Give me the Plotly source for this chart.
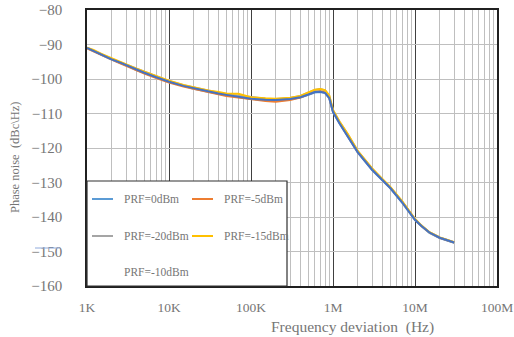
import plotly.graph_objects as go

freq_hz = [1e3, 1.2e3, 1.5e3, 2e3, 2.5e3, 3e3, 4e3, 5e3, 7e3, 10e3, 15e3, 20e3, 30e3, 40e3,
           50e3, 70e3, 100e3, 150e3, 200e3, 300e3, 400e3, 500e3, 600e3, 700e3, 800e3, 900e3,
           1e6, 1.2e6, 1.5e6, 2e6, 3e6, 4e6, 5e6, 7e6, 10e6, 12e6, 15e6, 20e6, 30e6]

prf_0 = [-91.0, -91.8, -93.0, -94.4, -95.3, -96.0, -97.4, -98.3, -99.6, -100.9, -102.0, -102.8,
         -103.7, -104.3, -104.7, -105.2, -105.8, -106.1, -106.2, -105.9, -105.4, -104.6, -103.9,
         -103.8, -104.1, -105.6, -109.6, -112.9, -116.4, -121.3, -126.4, -129.4, -131.7, -135.9,
         -140.9, -142.7, -144.6, -146.1, -147.5]
prf_m5 = [-91.1, -92.0, -93.1, -94.5, -95.4, -96.2, -97.5, -98.4, -99.7, -101.0, -102.2, -102.9,
          -103.8, -104.4, -104.9, -105.4, -106.0, -106.4, -106.6, -106.1, -105.4, -104.5, -103.7,
          -103.5, -103.9, -105.4, -109.4, -112.7, -116.2, -121.1, -126.2, -129.2, -131.5, -135.7,
          -140.7, -142.6, -144.5, -146.0, -147.4]
prf_m20 = [-90.9, -91.7, -92.8, -94.2, -95.1, -95.8, -97.1, -98.0, -99.3, -100.6, -101.8, -102.5,
           -103.4, -104.0, -104.4, -104.8, -105.4, -105.7, -105.8, -105.5, -104.9, -104.0, -103.2,
           -102.9, -103.3, -104.9, -109.1, -112.4, -115.9, -120.9, -126.0, -129.1, -131.4, -135.6,
           -140.6, -142.5, -144.4, -145.9, -147.3]
prf_m15 = [-90.9, -91.6, -92.7, -94.0, -95.0, -95.7, -97.0, -97.9, -99.2, -100.5, -101.7, -102.4,
           -103.3, -103.8, -104.2, -104.3, -105.3, -105.6, -105.7, -105.4, -104.9, -103.9, -103.1,
           -102.9, -103.2, -104.8, -109.0, -112.3, -115.8, -120.8, -125.9, -129.0, -131.3, -135.5,
           -140.6, -142.5, -144.4, -145.9, -147.3]
prf_m10 = [-91.0, -91.9, -92.9, -94.3, -95.2, -96.0, -97.3, -98.2, -99.5, -100.8, -102.0, -102.7,
           -103.6, -104.2, -104.6, -105.1, -105.7, -106.0, -106.1, -105.8, -105.3, -104.5, -103.8,
           -103.7, -104.0, -105.5, -109.5, -112.8, -116.3, -121.2, -126.3, -129.3, -131.6, -135.8,
           -140.8, -142.6, -144.5, -146.0, -147.4]

series_names = ["PRF=0dBm", "PRF=-5dBm", "PRF=-20dBm", "PRF=-15dBm", "PRF=-10dBm"]
series_vals = [prf_0, prf_m5, prf_m20, prf_m15, prf_m10]
series_colors = ["#5B9BD5", "#ED7D31", "#A5A5A5", "#FFC000", "#4472C4"]

x_tickvals = [1e3, 1e4, 1e5, 1e6, 1e7, 1e8]
x_ticktext = ["1K", "10K", "100K", "1M", "10M", "100M"]
y_tickvals = [-80, -90, -100, -110, -120, -130, -140, -150, -160]

W, H = 514, 337
L, R, T, B = 87, 497, 10, 286

def px(p):
    return (p - L) / (R - L)

def py(p):
    return (B - p) / (B - T)

FONT = "Liberation Serif"
TXT = "#767676"

fig = go.Figure()
for name, vals, col in zip(series_names, series_vals, series_colors):
    fig.add_trace(go.Scatter(x=freq_hz, y=vals, mode="lines", name=name,
                             line=dict(color=col, width=2), showlegend=False))

minor_vals = [m * 10 ** e for e in range(3, 8) for m in range(2, 10)]

fig.update_layout(
    width=W, height=H,
    margin=dict(l=L, r=W - R, t=T, b=H - B),
    paper_bgcolor="white", plot_bgcolor="white",
    font=dict(family=FONT, color=TXT),
    xaxis=dict(type="log", range=[3, 8], tickvals=x_tickvals, ticktext=x_ticktext,
               showgrid=True, gridcolor="#404040", gridwidth=1,
               minor=dict(tickvals=minor_vals, showgrid=True, gridcolor="#BFBFBF", gridwidth=1),
               showline=True, linecolor="#202020", linewidth=1.5, mirror=True,
               ticks="", ticklabelstandoff=8, ticklabeloverflow="allow", automargin=False,
               tickfont=dict(size=13.5, color=TXT), zeroline=False),
    yaxis=dict(range=[-160, -80], tickvals=y_tickvals, automargin=False,
               showgrid=True, gridcolor="#BFBFBF", gridwidth=1,
               showline=True, linecolor="#202020", linewidth=1.5, mirror=True,
               ticks="", ticklabelstandoff=20, tickfont=dict(size=15, color=TXT), zeroline=False),
)

shapes = []
annotations = []
# legend box
shapes.append(dict(type="rect", xref="paper", yref="paper", x0=px(87), x1=px(287), y0=py(286), y1=py(181),
                   fillcolor="white", line=dict(color="#303030", width=1.2), layer="above"))
legend_pos = [(0, 199), (1, 199), (0, 236), (1, 236), (0, 272)]
legend_order = [0, 1, 2, 3, 4]
for (col, yrow), idx in zip(legend_pos, legend_order):
    lx0 = 92 if col == 0 else 192
    tx = 122 if col == 0 else 222
    if idx != 4:
        shapes.append(dict(type="line", xref="paper", yref="paper", x0=px(lx0), x1=px(lx0 + 21),
                           y0=py(yrow), y1=py(yrow), line=dict(color=series_colors[idx], width=2), layer="above"))
    annotations.append(dict(text=series_names[idx], xref="paper", yref="paper", x=px(tx), y=py(yrow),
                            xanchor="left", yanchor="middle", showarrow=False,
                            font=dict(size=11.5, color=TXT, family=FONT)))
# stray underline below -150 label
shapes.append(dict(type="line", xref="paper", yref="paper", x0=px(35), x1=px(60), y0=py(248), y1=py(248),
                   line=dict(color="#8FAADC", width=1)))
# axis titles
annotations.append(dict(text="Frequency deviation  (Hz)", xref="paper", yref="paper", x=px(352), y=py(327),
                        xanchor="center", yanchor="middle", showarrow=False,
                        font=dict(size=15.5, color=TXT, family=FONT)))
annotations.append(dict(text="Phase noise  (dBc\\Hz)", xref="paper", yref="paper", x=px(15), y=py(158),
                        xanchor="center", yanchor="middle", showarrow=False, textangle=-90,
                        font=dict(size=12.5, color=TXT, family=FONT)))
fig.update_layout(shapes=shapes, annotations=annotations)

fig.write_html("out.html", config={"displayModeBar": False},
               post_script="document.body.style.margin='0';document.body.style.padding='0';")
